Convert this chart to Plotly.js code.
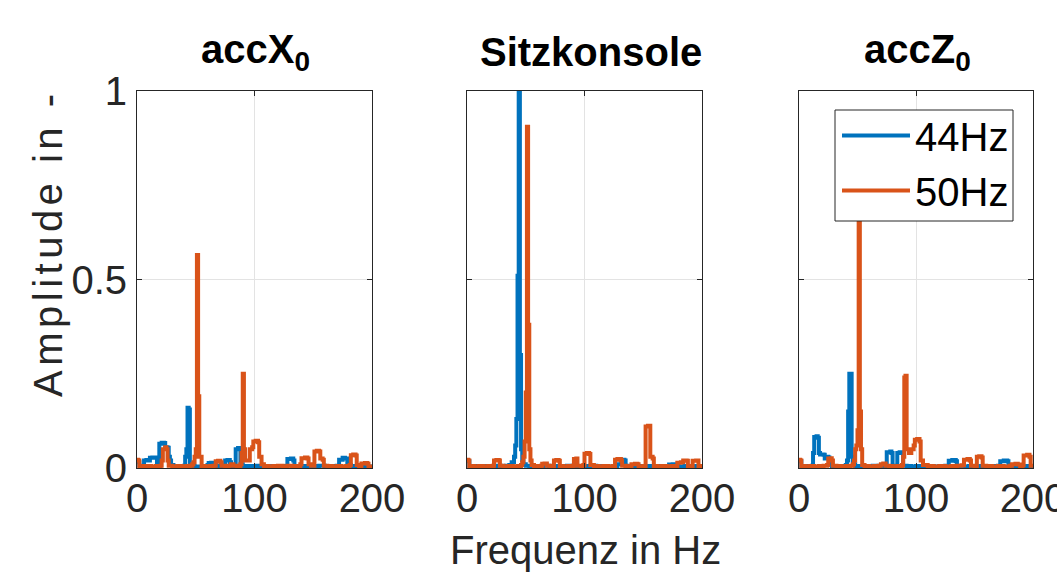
<!DOCTYPE html>
<html>
<head>
<meta charset="utf-8">
<script src="https://cdn.plot.ly/plotly-3.0.1.min.js"></script>
<style>html,body{margin:0;padding:0;background:#fff;}#chart{width:1057px;height:573px;}</style>
</head>
<body>
<div id="chart"></div>
<script>
// ---------- data ----------
const panelTitles = ['<b>accX<sub>0</sub></b>', '<b>Sitzkonsole</b>', '<b>accZ<sub>0</sub></b>'];
const seriesNames = ['44Hz', '50Hz'];
const xTickVals = [0, 100, 200];
const xTickText = ['0', '100', '200'];
const yTickVals = [0, 0.5, 1];
const yTickText = ['0', '0.5', '1'];

// Panel 1: accX0
const p1BlueF = [0,1,2,4,5,6,8,10,11,13,16,17,18,19,21,23,24,26,27,28,29,31,34,37,40,41,42,43,44,45,47,49,51,54,57,60,61,63,65,67,70,72,75,77,79,80,83,84,86,87,88,90,93,96,99,102,105,110,115,120,125,128,131,133,134,138,142,146,150,155,160,165,170,172,175,177,179,182,186,190,195,200];
const p1BlueA = [0.018,0.015,0.006,0.005,0.006,0.02,0.021,0.02,0.027,0.028,0.027,0.01,0.012,0.064,0.067,0.066,0.055,0.054,0.03,0.02,0.008,0.004,0.005,0.004,0.006,0.03,0.05,0.16,0.155,0.008,0.005,0.004,0.003,0.004,0.005,0.008,0.013,0.014,0.012,0.005,0.006,0.004,0.02,0.021,0.015,0.005,0.006,0.05,0.053,0.05,0.01,0.005,0.004,0.005,0.004,0.006,0.005,0.004,0.005,0.004,0.005,0.024,0.025,0.02,0.005,0.004,0.005,0.004,0.005,0.006,0.004,0.005,0.006,0.022,0.027,0.025,0.008,0.005,0.004,0.005,0.004,0.005];
const p1OrangeF = [0,1,2,5,8,12,16,20,21,22,24,25,26,27,30,34,38,42,45,47,48,49,50,51,52,53,55,58,62,65,67,69,71,72,75,78,80,82,85,88,89,90,91,92,94,96,98,99,101,103,104,106,108,112,116,120,124,128,132,136,139,140,143,145,146,148,151,153,155,156,158,159,162,166,170,174,178,181,182,184,186,187,189,191,194,196,197,200];
const p1OrangeA = [0.022,0.02,0.005,0.004,0.005,0.004,0.005,0.006,0.02,0.05,0.055,0.05,0.02,0.006,0.004,0.005,0.004,0.005,0.006,0.01,0.015,0.03,0.05,0.565,0.19,0.03,0.005,0.004,0.005,0.006,0.018,0.019,0.015,0.006,0.005,0.006,0.01,0.006,0.005,0.01,0.04,0.25,0.05,0.02,0.02,0.05,0.055,0.07,0.072,0.068,0.03,0.01,0.005,0.004,0.005,0.006,0.004,0.006,0.005,0.005,0.01,0.026,0.028,0.025,0.01,0.006,0.044,0.046,0.044,0.025,0.022,0.006,0.005,0.004,0.005,0.004,0.005,0.008,0.034,0.036,0.033,0.008,0.005,0.012,0.013,0.011,0.004,0.006];

// Panel 2: Sitzkonsole
const p2BlueF = [0,1,2,5,9,13,17,21,25,29,33,36,38,40,41,42,43,44,45,46,47,48,50,53,57,61,65,70,75,80,85,90,95,100,105,110,115,120,125,128,131,134,135,140,145,150,155,160,165,170,172,175,178,180,185,190,195,200];
const p2BlueA = [0.02,0.018,0.005,0.004,0.005,0.004,0.005,0.004,0.006,0.005,0.006,0.008,0.015,0.03,0.06,0.13,0.51,1.0,0.3,0.05,0.02,0.01,0.006,0.005,0.004,0.005,0.006,0.004,0.005,0.004,0.006,0.005,0.004,0.005,0.006,0.004,0.005,0.004,0.005,0.01,0.022,0.02,0.006,0.004,0.005,0.004,0.005,0.004,0.005,0.004,0.009,0.01,0.008,0.004,0.005,0.004,0.005,0.004];
const p2OrangeF = [0,1,2,6,10,14,18,22,23,25,27,28,31,35,39,43,46,47,48,49,50,51,52,53,54,55,57,60,63,64,66,68,71,74,76,78,79,82,86,90,91,93,94,97,99,100,102,104,105,108,112,116,120,124,126,128,131,132,135,138,140,143,145,146,150,152,154,156,158,159,162,166,170,174,178,179,182,184,187,188,191,192,195,197,200];
const p2OrangeA = [0.022,0.02,0.005,0.004,0.005,0.004,0.005,0.006,0.02,0.021,0.02,0.006,0.004,0.005,0.004,0.005,0.008,0.015,0.03,0.07,0.2,0.905,0.38,0.05,0.02,0.008,0.005,0.004,0.006,0.011,0.012,0.006,0.005,0.02,0.021,0.019,0.005,0.004,0.005,0.006,0.024,0.025,0.006,0.005,0.008,0.038,0.04,0.037,0.008,0.005,0.004,0.005,0.004,0.005,0.022,0.024,0.02,0.006,0.005,0.004,0.01,0.011,0.01,0.004,0.005,0.11,0.112,0.03,0.025,0.005,0.004,0.005,0.004,0.005,0.005,0.014,0.015,0.02,0.019,0.005,0.004,0.019,0.02,0.005,0.006];

// Panel 3: accZ0
const p3BlueF = [0,1,2,5,8,11,12,13,15,16,17,18,21,22,23,25,26,28,31,34,37,40,41,42,43,44,45,46,48,51,55,59,63,67,71,74,75,78,79,80,83,84,86,88,89,92,96,100,105,110,115,120,125,128,131,134,135,140,145,150,155,160,165,170,172,175,178,179,183,187,191,195,200];
const p3BlueA = [0.02,0.018,0.005,0.004,0.005,0.006,0.04,0.082,0.084,0.08,0.04,0.036,0.035,0.025,0.03,0.028,0.01,0.005,0.004,0.005,0.004,0.008,0.02,0.15,0.25,0.25,0.03,0.01,0.005,0.004,0.005,0.004,0.006,0.005,0.004,0.006,0.042,0.044,0.04,0.006,0.005,0.04,0.042,0.04,0.006,0.005,0.004,0.005,0.004,0.005,0.004,0.005,0.006,0.019,0.021,0.018,0.005,0.004,0.005,0.004,0.005,0.004,0.005,0.006,0.018,0.02,0.018,0.005,0.004,0.005,0.004,0.005,0.004];
const p3OrangeF = [0,1,2,5,9,13,17,21,24,25,27,28,29,32,36,40,44,46,47,48,49,50,51,52,53,54,56,60,64,68,70,72,74,77,80,84,88,89,90,91,92,94,96,98,99,101,103,104,106,110,115,120,125,130,135,139,141,144,146,147,150,152,154,156,157,160,165,170,175,180,182,185,187,189,191,192,195,197,198,200];
const p3OrangeA = [0.022,0.02,0.005,0.004,0.005,0.004,0.005,0.006,0.008,0.025,0.026,0.02,0.006,0.005,0.004,0.005,0.006,0.01,0.02,0.05,0.06,0.1,0.82,0.15,0.05,0.008,0.005,0.004,0.005,0.006,0.01,0.012,0.006,0.005,0.004,0.005,0.008,0.03,0.24,0.245,0.05,0.04,0.05,0.06,0.075,0.077,0.07,0.02,0.008,0.005,0.004,0.005,0.004,0.005,0.006,0.007,0.022,0.024,0.02,0.006,0.005,0.03,0.031,0.028,0.006,0.005,0.004,0.005,0.004,0.006,0.01,0.011,0.009,0.005,0.008,0.033,0.035,0.03,0.006,0.005];

// ---------- styling ----------
const W = 1057, H = 573;
const BLUE = '#0072BD', ORANGE = '#D95319';
const AX = '#262626';
const FONT = '"Liberation Sans", Arial, Helvetica, sans-serif';
const panelsX = [[137, 372], [467, 702], [799, 1033]];
const titleX = [255, 591, 917];
const plotTop = 91, plotBottom = 468;
const LW = 4;

const blueF = [p1BlueF, p2BlueF, p3BlueF];
const blueA = [p1BlueA, p2BlueA, p3BlueA];
const orangeF = [p1OrangeF, p2OrangeF, p3OrangeF];
const orangeA = [p1OrangeA, p2OrangeA, p3OrangeA];

const traces = [];
const layout = {
  width: W, height: H,
  margin: {l: 0, r: 0, t: 0, b: 0},
  paper_bgcolor: '#fff', plot_bgcolor: '#fff',
  font: {family: FONT, color: AX, size: 40},
  showlegend: true,
  legend: {
    x: 837 / W, y: 1 - 103 / H, xanchor: 'left', yanchor: 'top',
    bgcolor: 'rgba(0,0,0,0)', borderwidth: 0,
    font: {family: FONT, size: 40, color: '#000'},
    itemwidth: 68, tracegroupgap: 0
  },
  annotations: [],
  shapes: [{
    type: 'rect', xref: 'paper', yref: 'paper', layer: 'above',
    x0: 835 / W, x1: 1013 / W, y0: 1 - 221 / H, y1: 1 - 110 / H,
    fillcolor: '#fff', line: {color: AX, width: 1}
  }]
};

for (let i = 0; i < 3; i++) {
  const sfx = i === 0 ? '' : String(i + 1);
  const xa = 'x' + sfx, ya = 'y' + sfx;
  traces.push({x: blueF[i], y: blueA[i], type: 'scatter', mode: 'lines', name: seriesNames[0],
    line: {color: BLUE, width: LW, shape: 'hv'}, xaxis: xa, yaxis: ya, showlegend: i === 2, hoverinfo: 'skip'});
  traces.push({x: orangeF[i], y: orangeA[i], type: 'scatter', mode: 'lines', name: seriesNames[1],
    line: {color: ORANGE, width: LW, shape: 'hv'}, xaxis: xa, yaxis: ya, showlegend: i === 2, hoverinfo: 'skip'});
  layout['xaxis' + sfx] = {
    domain: [panelsX[i][0] / W, panelsX[i][1] / W], anchor: ya,
    range: [0, 200], tickvals: xTickVals, ticktext: xTickText,
    ticks: 'inside', ticklen: 5, tickcolor: AX, tickwidth: 1,
    showline: true, mirror: 'ticks', linecolor: AX, linewidth: 1,
    showgrid: true, gridcolor: '#e3e3e3', gridwidth: 1, zeroline: false,
    tickfont: {family: FONT, size: 40, color: AX}, ticklabelstandoff: -5,
    ticklabeloverflow: 'allow', fixedrange: true
  };
  layout['yaxis' + sfx] = {
    domain: [1 - plotBottom / H, 1 - plotTop / H], anchor: xa,
    range: [0, 1], tickvals: yTickVals, ticktext: i === 0 ? yTickText : ['', '', ''],
    ticks: 'inside', ticklen: 5, tickcolor: AX, tickwidth: 1,
    showline: true, mirror: 'ticks', linecolor: AX, linewidth: 1,
    showgrid: true, gridcolor: '#e3e3e3', gridwidth: 1, zeroline: false,
    tickfont: {family: FONT, size: 40, color: AX}, ticklabelstandoff: 1,
    ticklabeloverflow: 'allow', fixedrange: true
  };
  layout.annotations.push({
    text: panelTitles[i], xref: 'paper', yref: 'paper',
    x: titleX[i] / W, y: 1 - 52 / H,
    xanchor: 'center', yanchor: 'middle', showarrow: false,
    font: {family: FONT, size: 40, color: '#000'}
  });
}
layout.annotations.push({
  text: 'Frequenz in Hz', xref: 'paper', yref: 'paper',
  x: 585 / W, y: 1 - 550 / H, xanchor: 'center', yanchor: 'middle',
  showarrow: false, font: {family: FONT, size: 40, color: AX}
});
layout.annotations.push({
  text: '<span style="letter-spacing:4.5px">Amplitude in -</span>', xref: 'paper', yref: 'paper', textangle: -90,
  x: 48 / W, y: 1 - 243 / H, xanchor: 'center', yanchor: 'middle',
  showarrow: false, font: {family: FONT, size: 40, color: AX}
});

Plotly.newPlot('chart', traces, layout, {displayModeBar: false, staticPlot: true});
</script>
</body>
</html>
